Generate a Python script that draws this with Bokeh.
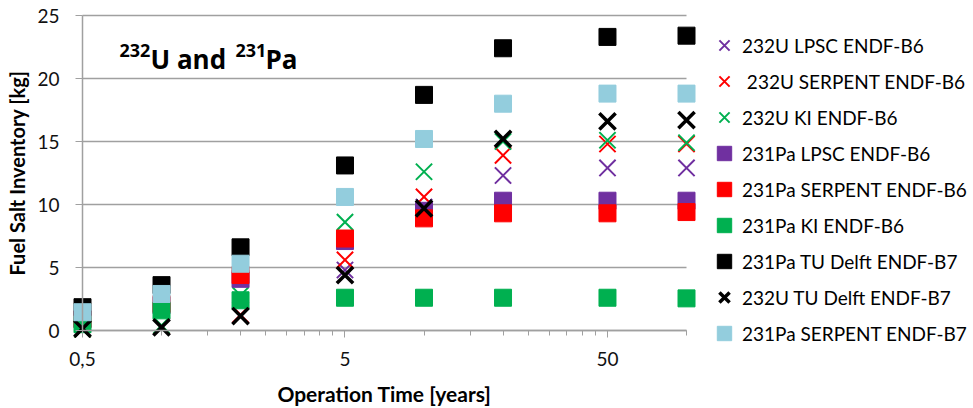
import math
from bokeh.plotting import figure
from bokeh.models import Range1d, FixedTicker, Legend, LegendItem, Label
from bokeh.embed import file_html
from bokeh.resources import INLINE

# ---- data ----
time_years = [0.5, 1, 2, 5, 10, 20, 50, 100]

u232_lpsc_b6 = [0.1, 0.3, 1.2, 4.8, 9.8, 12.3, 12.9, 12.9]
u232_serpent_b6 = [0.1, 0.35, 1.25, 5.6, 10.6, 13.9, 14.8, 14.8]
u232_ki_b6 = [0.1, 0.4, 2.8, 8.6, 12.6, 15.0, 15.1, 14.9]
pa231_lpsc_b6 = [0.9, 2.0, 4.1, 7.1, 9.5, 10.3, 10.3, 10.3]
pa231_serpent_b6 = [0.9, 2.1, 4.4, 7.3, 8.9, 9.3, 9.3, 9.4]
pa231_ki_b6 = [0.5, 1.6, 2.4, 2.6, 2.6, 2.6, 2.6, 2.55]
pa231_tudelft_b7 = [1.85, 3.6, 6.6, 13.1, 18.7, 22.4, 23.3, 23.4]
u232_tudelft_b7 = [0.15, 0.25, 1.15, 4.4, 9.7, 15.2, 16.6, 16.7]
pa231_serpent_b7 = [1.45, 2.9, 5.3, 10.6, 15.2, 18.0, 18.8, 18.8]

legend_labels = [
    "232U LPSC ENDF-B6",
    " 232U SERPENT ENDF-B6",
    "232U KI ENDF-B6",
    "231Pa LPSC ENDF-B6",
    "231Pa SERPENT ENDF-B6",
    "231Pa KI ENDF-B6",
    "231Pa TU Delft ENDF-B7",
    "232U TU Delft ENDF-B7",
    "231Pa SERPENT ENDF-B7",
]

x_axis_bounds = (0.5, 100)
y_axis_bounds = (0, 25)
x_major_ticks = [0.5, 5, 50]
x_major_labels = ["0,5", "5", "50"]
x_minor_ticks = [1, 1.5, 2, 2.5, 3, 3.5, 4, 4.5,
                 10, 15, 20, 25, 30, 35, 40, 45, 100]
y_ticks = [0, 5, 10, 15, 20, 25]

# ---- styles / layout ----
PURPLE = "#7030A0"
RED = "#FF0000"
GREEN = "#00B050"
BLACK = "#000000"
LBLUE = "#93CDDD"
FONT = "Lato"
GRID = "#A0A0A0"

W, H = 973, 408
PLOT_L, PLOT_R, PLOT_T, PLOT_B = 82, 686, 15, 330   # pixel box of the axes

series = [
    (u232_lpsc_b6, "x", PURPLE, 2),
    (u232_serpent_b6, "x", RED, 2),
    (u232_ki_b6, "x", GREEN, 2),
    (pa231_lpsc_b6, "square", PURPLE, 1),
    (pa231_serpent_b6, "square", RED, 1),
    (pa231_ki_b6, "square", GREEN, 1),
    (pa231_tudelft_b7, "square", BLACK, 1),
    (u232_tudelft_b7, "x", BLACK, 3.5),
    (pa231_serpent_b7, "square", LBLUE, 1),
]

# the frame covers the whole canvas; ranges chosen so that the axis box
# lands on PLOT_L..PLOT_R / PLOT_T..PLOT_B
lx0, lx1 = math.log10(x_axis_bounds[0]), math.log10(x_axis_bounds[1])
px_per_dec = (PLOT_R - PLOT_L) / (lx1 - lx0)
x_start = 10 ** (lx0 - PLOT_L / px_per_dec)
x_end = 10 ** (lx1 + (W - PLOT_R) / px_per_dec)
px_per_unit = (PLOT_B - PLOT_T) / (y_axis_bounds[1] - y_axis_bounds[0])
y_start = y_axis_bounds[0] - (H - PLOT_B) / px_per_unit
y_end = y_axis_bounds[1] + PLOT_T / px_per_unit

p = figure(
    width=W, height=H,
    x_axis_type="log",
    x_range=Range1d(x_start, x_end), y_range=Range1d(y_start, y_end),
    output_backend="svg", toolbar_location=None,
    min_border_left=0, min_border_right=0,
    min_border_top=0, min_border_bottom=0,
)
p.outline_line_color = None
p.background_fill_color = "white"
p.xgrid.visible = False
p.ygrid.visible = False

# horizontal gridlines limited to the axis extent
p.segment(x0=[x_axis_bounds[0]] * len(y_ticks), x1=[x_axis_bounds[1]] * len(y_ticks),
          y0=y_ticks, y1=y_ticks, line_color=GRID, line_width=1.5, level="underlay")

items = []
for (vals, marker, color, lw), label in zip(series, legend_labels):
    if marker == "square":
        r = p.scatter(time_years, vals, marker="square", size=17,
                      fill_color=color, line_color=color, line_width=lw)
    else:
        r = p.scatter(time_years, vals, marker="x", size=23,
                      line_color=color, line_width=lw)
    items.append(LegendItem(label=label, renderers=[r]))

# axes
xa = p.xaxis[0]
xa.fixed_location = y_axis_bounds[0]
xa.bounds = x_axis_bounds
xa.ticker = FixedTicker(ticks=x_major_ticks, minor_ticks=x_minor_ticks)
xa.major_label_overrides = {t: l for t, l in zip(x_major_ticks, x_major_labels)}
xa.axis_line_color = GRID
xa.axis_line_width = 1.5
xa.major_tick_line_color = GRID
xa.minor_tick_line_color = GRID
xa.major_tick_in = 0
xa.major_tick_out = 7
xa.minor_tick_in = 0
xa.minor_tick_out = 5
xa.major_label_standoff = 14
xa.major_label_text_font = FONT
xa.major_label_text_font_size = "19px"
xa.major_label_text_color = "#111111"
xa.axis_label = "Operation Time [years]"
xa.axis_label_text_font = FONT
xa.axis_label_text_font_size = "21px"
xa.axis_label_text_font_style = "bold"
xa.axis_label_text_color = "#000000"
xa.axis_label_standoff = 12

ya = p.yaxis[0]
ya.fixed_location = x_axis_bounds[0]
ya.bounds = y_axis_bounds
ya.ticker = FixedTicker(ticks=y_ticks)
ya.axis_line_color = GRID
ya.axis_line_width = 1.5
ya.major_tick_line_color = GRID
ya.major_tick_in = 0
ya.major_tick_out = 7
ya.minor_tick_line_color = None
ya.major_label_standoff = 16
ya.major_label_text_font = FONT
ya.major_label_text_font_size = "19px"
ya.major_label_text_color = "#111111"
ya.axis_label = "Fuel Salt Inventory [kg]"
ya.axis_label_text_font = FONT
ya.axis_label_text_font_size = "20px"
ya.axis_label_text_font_style = "bold"
ya.axis_label_text_color = "#000000"
ya.axis_label_standoff = 5

# inset title  (232U and 231Pa with superscripts), screen px from bottom-left
title_parts = [("232", 119, 358, "18px"), ("U and", 150, 350, "26px"),
               ("231", 235, 358, "18px"), ("Pa", 265, 350, "26px")]
for txt, sx, sy, fs in title_parts:
    p.add_layout(Label(x=sx, y=sy, x_units="screen", y_units="screen",
                       text=txt, text_font="Open Sans", text_font_size=fs,
                       text_font_style="bold", text_color="#000000",
                       text_baseline="alphabetic"))

legend = Legend(items=items, location=(706, 57),
                glyph_width=36, glyph_height=36, label_height=36,
                spacing=0, label_standoff=0, padding=0, margin=0,
                border_line_color=None, background_fill_alpha=0,
                label_text_font=FONT, label_text_font_size="19px",
                label_text_color="#000000")
p.add_layout(legend)

open("out.html", "w").write(file_html(p, INLINE))
